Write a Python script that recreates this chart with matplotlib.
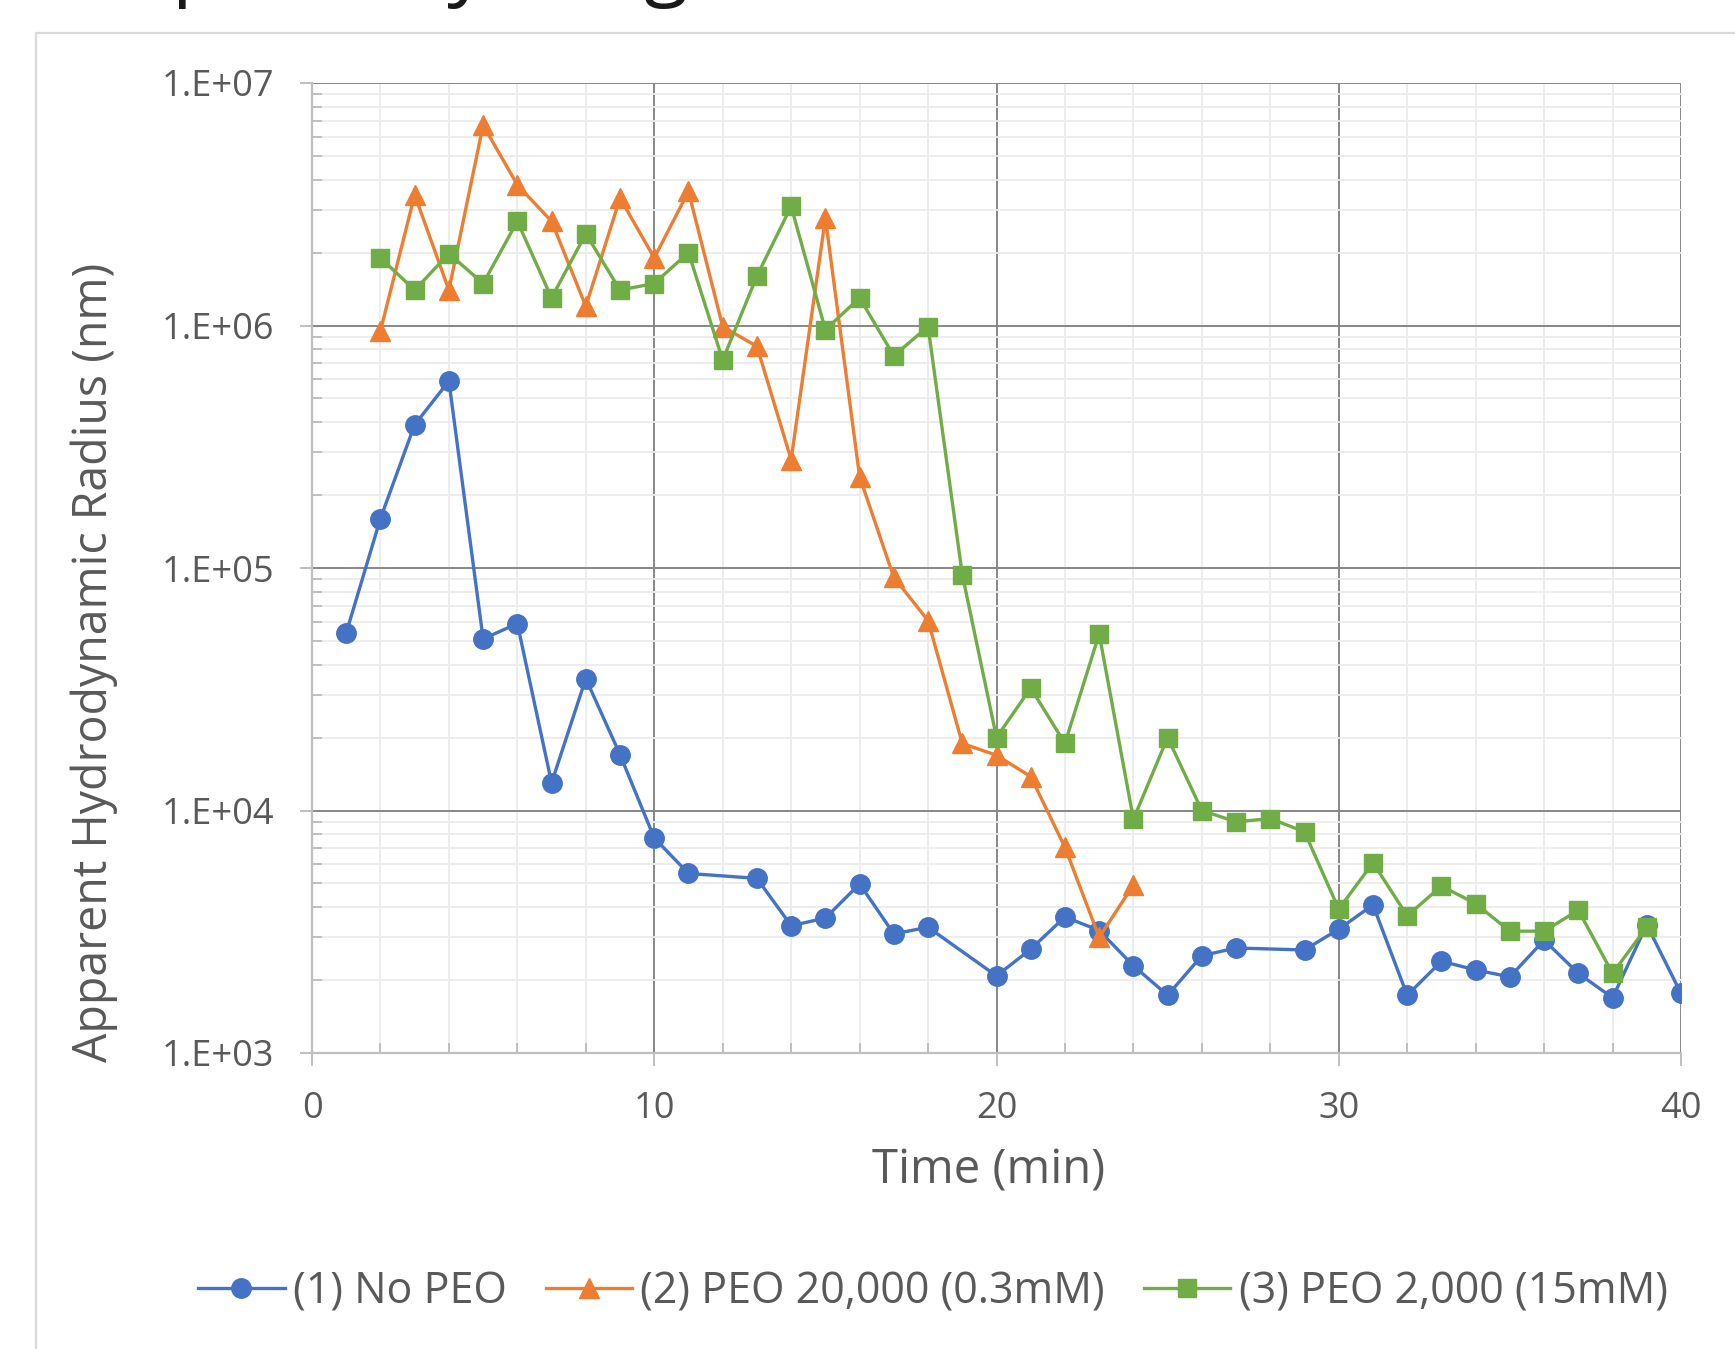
import matplotlib
matplotlib.use("Agg")
import matplotlib.pyplot as plt
from matplotlib.patches import Rectangle
from matplotlib.ticker import FixedLocator, FuncFormatter, LogLocator, NullFormatter
import numpy as np

plt.rcParams['font.family'] = ['Open Sans', 'DejaVu Sans']

# data (time in min, radius in nm)
t_no_peo = [1, 2, 3, 4, 5, 6, 7, 8, 9, 10, 11, 13, 14, 15, 16, 17, 18, 20, 21, 22,
            23, 24, 25, 26, 27, 29, 30, 31, 32, 33, 34, 35, 36, 37, 38, 39, 40]
r_no_peo = [5.4e4, 1.6e5, 3.9e5, 5.9e5, 5.1e4, 5.9e4, 1.3e4, 3.5e4, 1.7e4, 7.7e3,
            5.5e3, 5.25e3, 3.35e3, 3.6e3, 4.98e3, 3.1e3, 3.3e3, 2.08e3, 2.68e3, 3.64e3,
            3.2e3, 2.29e3, 1.73e3, 2.52e3, 2.71e3, 2.66e3, 3.24e3, 4.08e3, 1.73e3, 2.39e3,
            2.2e3, 2.06e3, 2.92e3, 2.13e3, 1.69e3, 3.38e3, 1.76e3]

t_peo20k = list(range(2, 25))
r_peo20k = [9.5e5, 3.46e6, 1.4e6, 6.7e6, 3.8e6, 2.69e6, 1.2e6, 3.35e6, 1.9e6, 3.57e6,
            9.9e5, 8.2e5, 2.8e5, 2.77e6, 2.38e5, 9.15e4, 6.07e4, 1.89e4, 1.69e4, 1.38e4,
            7.05e3, 3.0e3, 4.93e3]

t_peo2k = list(range(2, 40))
r_peo2k = [1.9e6, 1.4e6, 1.98e6, 1.49e6, 2.69e6, 1.3e6, 2.39e6, 1.4e6, 1.49e6, 2.0e6,
           7.2e5, 1.6e6, 3.1e6, 9.6e5, 1.3e6, 7.5e5, 9.9e5, 9.4e4, 2.0e4, 3.2e4,
           1.89e4, 5.35e4, 9.2e3, 2.0e4, 1.0e4, 8.98e3, 9.26e3, 8.17e3, 3.92e3, 6.09e3,
           3.68e3, 4.88e3, 4.13e3, 3.18e3, 3.18e3, 3.88e3, 2.13e3, 3.31e3]

labels = ['(1) No PEO', '(2) PEO 20,000 (0.3mM)', '(3) PEO 2,000 (15mM)']
colors = ['#4472C4', '#ED7D31', '#70AD47']

W, H = 1735, 1349
fig = plt.figure(figsize=(W / 100, H / 100), dpi=100)
ax = fig.add_axes([312 / W, 1 - 1053 / H, (1681 - 312) / W, (1053 - 83) / H])

# chart frame (cut off at right / bottom like the screenshot)
fig.add_artist(Rectangle((36 / W, -0.1), 1.2, 1 - 33 / H + 0.1, transform=fig.transFigure,
                         fill=False, edgecolor='#d9d9d9', lw=1.6))
# clipped title, only descenders visible
fig.text(8 / W, 1 + 10 / H, 'Temporal Dye Log', fontsize=58, color='#1a1a1a',
         va='baseline', ha='left')

ax.plot(t_no_peo, r_no_peo, color=colors[0], lw=2.4, marker='o', ms=14, label=labels[0], zorder=5)
ax.plot(t_peo20k, r_peo20k, color=colors[1], lw=2.4, marker='^', ms=15, label=labels[1], zorder=5)
ax.plot(t_peo2k, r_peo2k, color=colors[2], lw=2.4, marker='s', ms=13, label=labels[2], zorder=5)

ax.set_yscale('log')
ax.set_xlim(0, 40)
ax.set_ylim(1e3, 1e7)

ax.xaxis.set_major_locator(FixedLocator([0, 10, 20, 30, 40]))
ax.xaxis.set_minor_locator(FixedLocator(np.arange(0, 41, 2)))
ax.yaxis.set_major_locator(LogLocator(base=10, numticks=10))
ax.yaxis.set_minor_locator(LogLocator(base=10, subs=np.arange(2, 10), numticks=20))
ax.yaxis.set_major_formatter(FuncFormatter(lambda v, p: '1.E+%02d' % int(round(np.log10(v)))))
ax.yaxis.set_minor_formatter(NullFormatter())

ax.grid(which='minor', color='#ececec', lw=1.3, zorder=0)
ax.grid(which='major', color='#878787', lw=1.4, zorder=1)
ax.set_axisbelow(True)

for s in ['top', 'right']:
    ax.spines[s].set_visible(False)
for s in ['left', 'bottom']:
    ax.spines[s].set_color('#bfbfbf')
    ax.spines[s].set_linewidth(1.6)
    ax.spines[s].set_zorder(2)

ax.tick_params(which='major', direction='out', length=9, width=1.4, color='#bfbfbf',
               labelsize=26, labelcolor='#595959', pad=18)
ax.tick_params(which='minor', direction='in', length=7, width=1.4, color='#bfbfbf')

ax.set_xlabel('Time (min)', fontsize=34, color='#595959', va='center')
ax.xaxis.set_label_coords(0.494, -0.1216)
ax.set_ylabel('Apparent Hydrodynamic Radius (nm)', fontsize=33.5, color='#595959',
              va='center', ha='center')
ax.yaxis.set_label_coords(-0.159, 0.403)

leg = fig.legend(loc='center', bbox_to_anchor=(933 / W, 1 - 1292 / H), ncol=3, frameon=False,
                 fontsize=31, handlelength=2.0, handletextpad=0.2, columnspacing=0.9,
                 labelcolor='#595959')

fig.savefig('out.png', dpi=100)
